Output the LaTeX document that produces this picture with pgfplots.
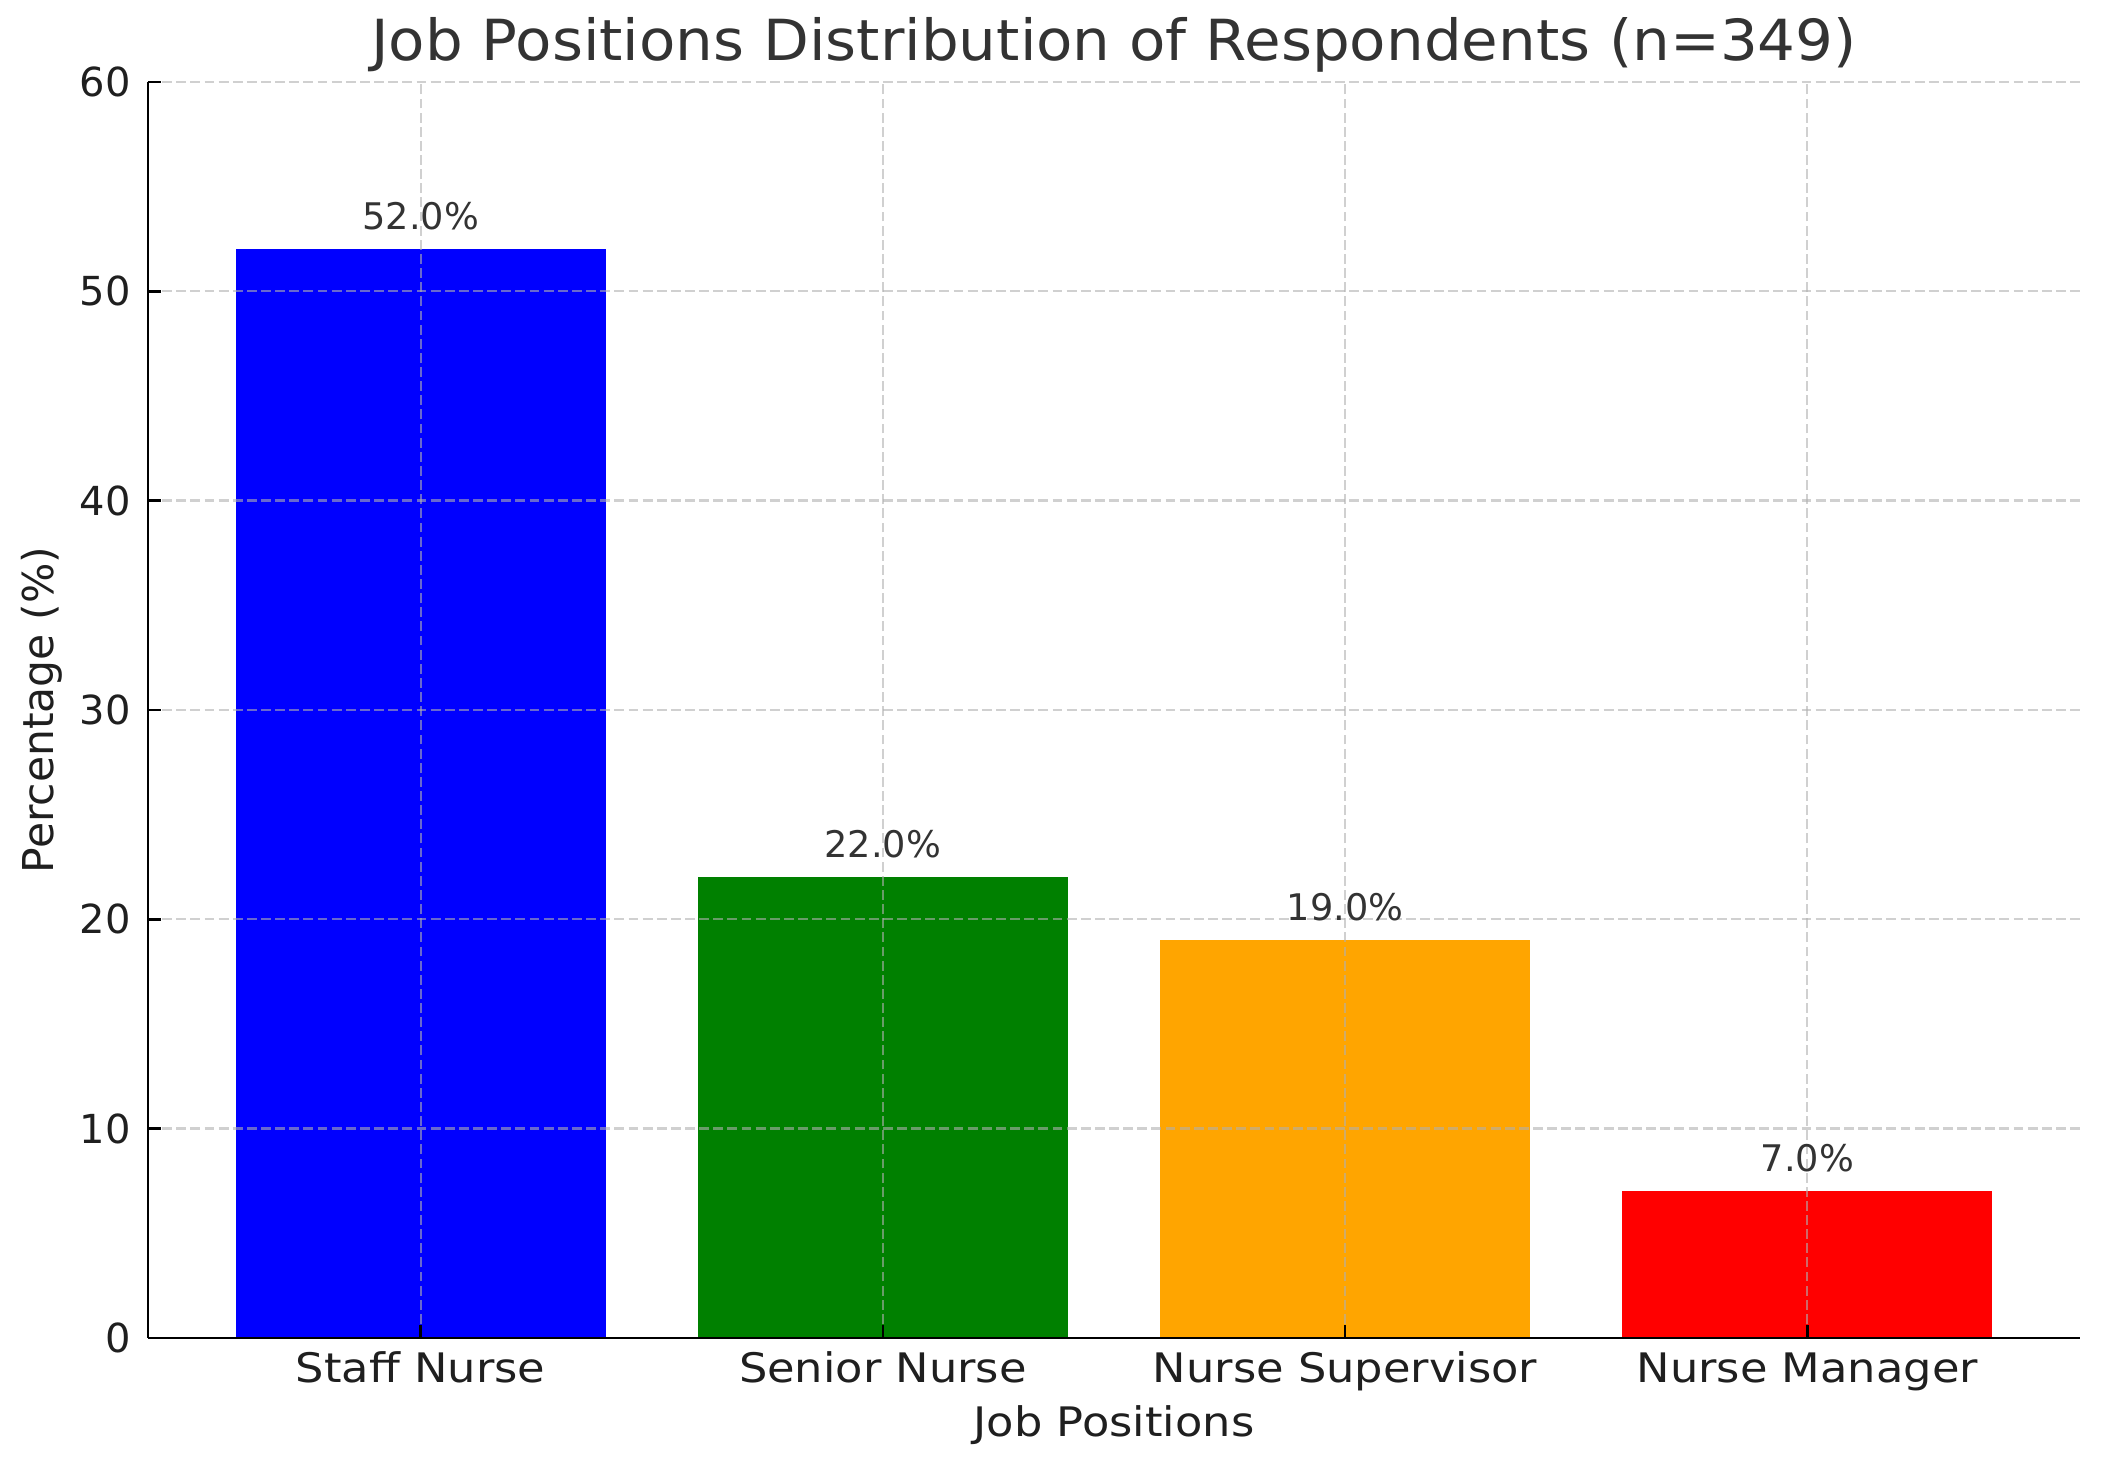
\documentclass[border=0pt]{standalone}
\usepackage{fontspec}
\setmainfont{DejaVu Sans}
\usepackage{pgfplots}
\pgfplotsset{compat=1.18}
\definecolor{mplgreen}{RGB}{0,128,0}
\definecolor{mplorange}{RGB}{255,165,0}
\definecolor{mplblue}{RGB}{0,0,255}
\definecolor{mplred}{RGB}{255,0,0}
\definecolor{txtgray}{RGB}{51,51,51}
\definecolor{gridgray}{RGB}{176,176,176}
\begin{document}
\begin{tikzpicture}
\useasboundingbox (0,0) rectangle (632.1pt,438pt);
\begin{axis}[
  at={(44.4pt,36.6pt)}, anchor=south west,
  width=579.6pt, height=376.8pt, scale only axis,
  /pgf/number format/assume math mode=true,
  xmin=-0.59, xmax=3.59, ymin=0, ymax=60,
  axis x line*=bottom, axis y line*=left,
  axis line style={black, line width=0.8pt},
  xtick={0,1,2,3},
  xticklabels={Staff Nurse, Senior Nurse, Nurse Supervisor, Nurse Manager},
  ytick={0,10,20,30,40,50,60},
  tick align=inside,
  major tick length=3.9pt,
  tick style={black, line width=0.8pt},
  xticklabel style={font=\fontsize{12.2}{14}\selectfont, xscale=1.1, text=black!88, anchor=base, yshift=-13.5pt, inner sep=0pt},
  yticklabel style={font=\fontsize{12}{14}\selectfont, text=black!88, anchor=east, xshift=-5pt, inner sep=0pt},
  grid=major,
  major grid style={gridgray, opacity=0.6, line width=0.7pt, dash pattern=on 2.96pt off 1.28pt},
  axis on top,
  nodes near coords={\pgfmathprintnumber[fixed, fixed zerofill, precision=1]{\pgfplotspointmeta}\%},
  nodes near coords style={font=\fontsize{11}{13}\selectfont, text=txtgray, anchor=base, yshift=6pt, inner sep=0pt},
  clip=false,
]
\addplot[ybar, bar shift=0pt, bar width=0.8, fill=mplblue, draw=none] coordinates {(0,52.0)};
\addplot[ybar, bar shift=0pt, bar width=0.8, fill=mplgreen, draw=none] coordinates {(1,22.0)};
\addplot[ybar, bar shift=0pt, bar width=0.8, fill=mplorange, draw=none] coordinates {(2,19.0)};
\addplot[ybar, bar shift=0pt, bar width=0.8, fill=mplred, draw=none] coordinates {(3,7.0)};
\end{axis}
\node[anchor=base, font=\fontsize{17}{20}\selectfont, xscale=1.05, text=txtgray, inner sep=0pt] at (334.2pt,419.7pt) {Job Positions Distribution of Respondents (n=349)};
\node[anchor=base, font=\fontsize{12.2}{14}\selectfont, xscale=1.1, text=black!88, inner sep=0pt] at (334.2pt,6.9pt) {Job Positions};
\node[anchor=base, rotate=90, font=\fontsize{12.75}{14}\selectfont, text=black!88, inner sep=0pt] at (15.9pt,225pt) {Percentage (\%)};
\end{tikzpicture}
\end{document}
